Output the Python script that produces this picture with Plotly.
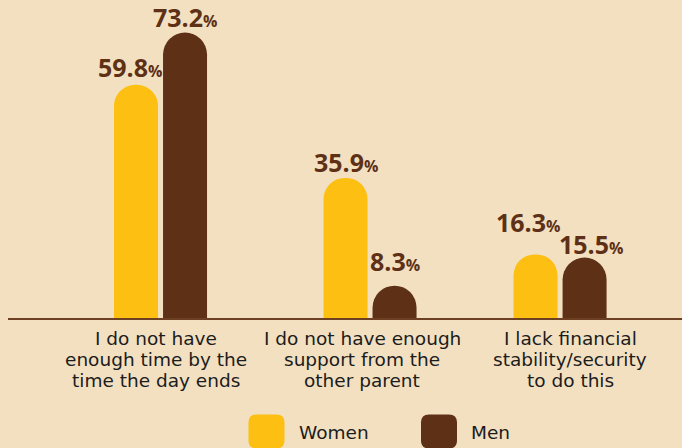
import plotly.graph_objects as go

# ---- data ----
categories = [
    "I do not have<br>enough time by the<br>time the day ends",
    "I do not have enough<br>support from the<br>other parent",
    "I lack financial<br>stability/security<br>to do this",
]
women = [59.8, 35.9, 16.3]
men = [73.2, 8.3, 15.5]
series_names = ["Women", "Men"]

# ---- styling ----
BG = "#F2E0C1"
YELLOW = "#FDBF12"
BROWN = "#5E3016"
LINE = "#6E4023"
TEXT = "#1C1C1C"

W, H = 682, 448
ML, MR, MT, MB = 8, 0, 8, 130
PW, PH = W - ML - MR, H - MT - MB

# group layout on a numeric x axis (1 unit = one group slot)
group_pos = [0.0, 1.0, 1.907]
label_pos = [-0.021, 0.962, 1.955]
x_range = [-0.728, 2.489]
bar_w = 0.21
off_women = -0.222
off_men = 0.012
y_range = [0, 79.5]

# nudges (pixels) for value labels so neighbouring labels stay apart
lift_women = [(-6, 2), (0, 0), (-8, 16)]
lift_men = [(0, 0), (0, 9), (6, -2)]

LINE_GAP = 21  # spacing between category label lines, px


def px_x(px):
    return (px - ML) / PW


def px_y(py):
    return (MT + PH - py) / PH


fig = go.Figure()
for name, vals, off, col, lifts in [
    (series_names[0], women, off_women, YELLOW, lift_women),
    (series_names[1], men, off_men, BROWN, lift_men),
]:
    fig.add_trace(go.Bar(
        x=group_pos, y=vals, name=name,
        width=bar_w, offset=off,
        marker=dict(color=col, cornerradius="50%", line=dict(width=0)),
        hoverinfo="skip", showlegend=False,
    ))
    for gx, v, (dx, dy) in zip(group_pos, vals, lifts):
        fig.add_annotation(
            x=gx + off + bar_w / 2, y=v, xref="x", yref="y",
            text=f"<b>{v:.1f}<span style='font-size:16px'>%</span></b>",
            showarrow=False, yanchor="bottom", xanchor="center",
            xshift=dx, yshift=dy - 2, borderpad=0,
            font=dict(family="Open Sans", size=25, color=BROWN),
        )

# category labels under the axis, one annotation per line
for lx, cat in zip(label_pos, categories):
    for i, line in enumerate(cat.split("<br>")):
        fig.add_annotation(
            x=lx, y=px_y(338 + i * LINE_GAP), xref="x", yref="paper",
            text=line, showarrow=False, xanchor="center", yanchor="middle",
            font=dict(family="DejaVu Sans", size=18.5, color=TEXT),
        )

# legend: rounded swatches + labels
swatch_path = ("M -10 17 L 10 17 Q 18 17 18 9 L 18 -9 Q 18 -17 10 -17 "
               "L -10 -17 Q -18 -17 -18 -9 L -18 9 Q -18 17 -10 17 Z")
for cx, tx, name, col in [
    (266.5, 297, series_names[0], YELLOW),
    (439, 469, series_names[1], BROWN),
]:
    fig.add_shape(
        type="path", path=swatch_path, xref="paper", yref="paper",
        xsizemode="pixel", ysizemode="pixel",
        xanchor=px_x(cx), yanchor=px_y(431.5),
        fillcolor=col, line=dict(width=0), layer="above",
    )
    fig.add_annotation(
        x=px_x(tx), y=px_y(432.5), xref="paper", yref="paper",
        text=name, showarrow=False, xanchor="left", yanchor="middle",
        font=dict(family="DejaVu Sans", size=18.5, color=TEXT),
    )

fig.update_layout(
    width=W, height=H,
    margin=dict(l=ML, r=MR, t=MT, b=MB),
    paper_bgcolor=BG, plot_bgcolor=BG,
    barmode="overlay",
    showlegend=False,
    xaxis=dict(range=x_range, showgrid=False, zeroline=False,
               showticklabels=False, ticks="",
               showline=True, linecolor=LINE, linewidth=2, fixedrange=True),
    yaxis=dict(range=y_range, showgrid=False, zeroline=False,
               showticklabels=False, ticks="", showline=False,
               fixedrange=True),
)

fig.write_html("out.html", config={"displayModeBar": False})
